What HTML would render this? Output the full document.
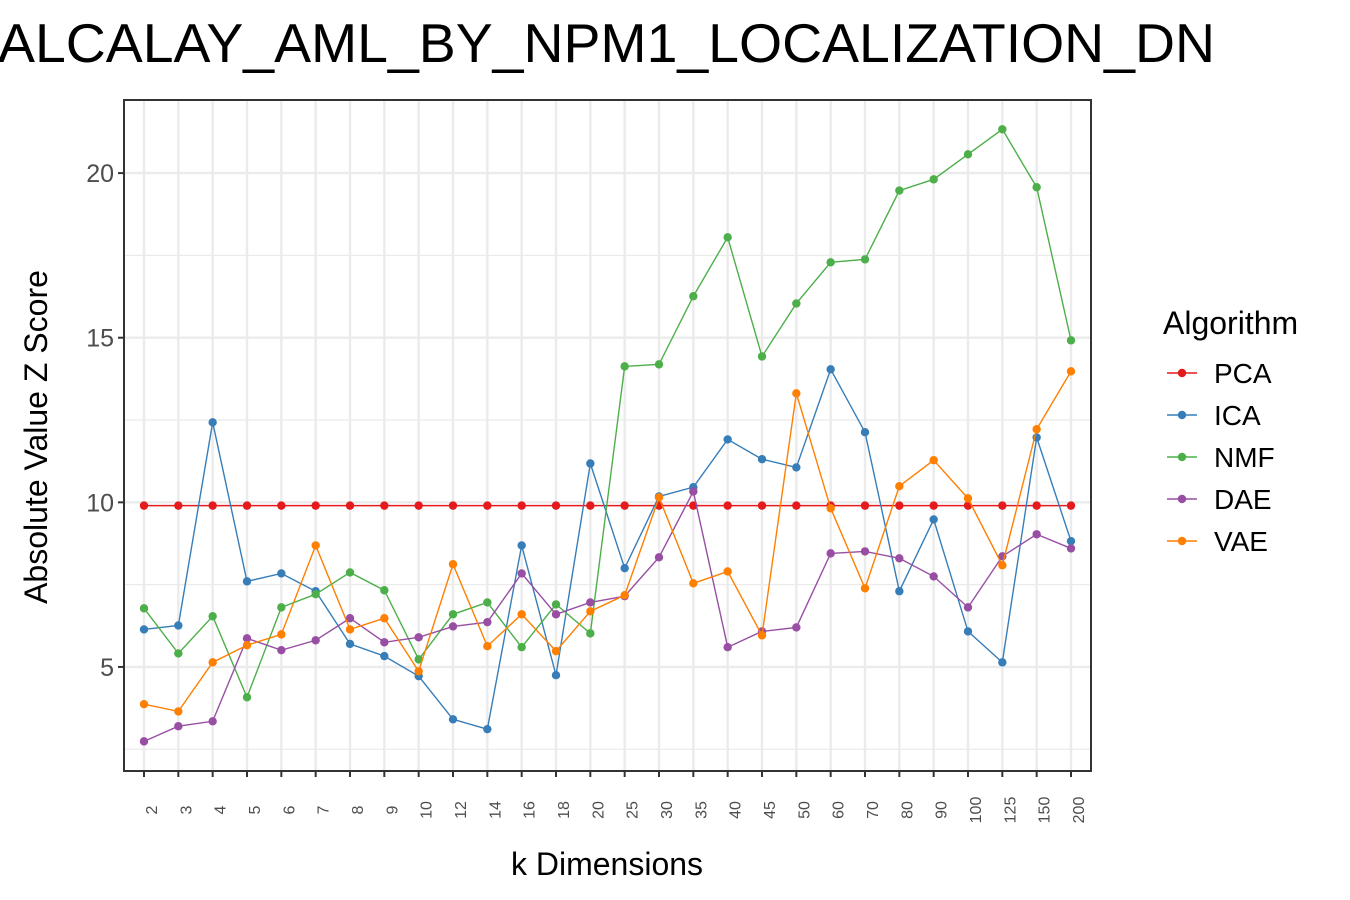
<!DOCTYPE html>
<html><head><meta charset="utf-8"><style>
body{margin:0;background:#fff;}
svg{display:block;font-family:"Liberation Sans",Arial,sans-serif;}
</style></head><body>
<svg id="chart" width="1350" height="900">
<text x="-2" y="62" font-size="55" textLength="1217" lengthAdjust="spacingAndGlyphs" fill="#000">ALCALAY_AML_BY_NPM1_LOCALIZATION_DN</text>
<text x="607" y="875" font-size="32" text-anchor="middle">k Dimensions</text>
<text transform="translate(47,437) rotate(-90)" font-size="32" text-anchor="middle">Absolute Value Z Score</text>
<g id="grid"></g><g id="series"></g><g id="axes"></g><g id="legend"></g>
</svg>
<script>
const categories=["2","3","4","5","6","7","8","9","10","12","14","16","18","20","25","30","35","40","45","50","60","70","80","90","100","125","150","200"];
const pca=[9.9,9.9,9.9,9.9,9.9,9.9,9.9,9.9,9.9,9.9,9.9,9.9,9.9,9.9,9.9,9.9,9.9,9.9,9.9,9.9,9.9,9.9,9.9,9.9,9.9,9.9,9.9,9.9];
const ica=[6.14,6.26,12.43,7.60,7.84,7.30,5.70,5.33,4.72,3.41,3.11,8.69,4.75,11.18,8.00,10.18,10.46,11.91,11.31,11.06,14.04,12.13,7.30,9.48,6.08,5.14,11.97,8.82];
const nmf=[6.78,5.41,6.54,4.08,6.81,7.21,7.87,7.33,5.23,6.60,6.96,5.60,6.90,6.02,14.13,14.19,16.26,18.05,14.43,16.04,17.29,17.38,19.47,19.81,20.57,21.33,19.57,14.92];
const dae=[2.74,3.20,3.35,5.87,5.51,5.81,6.48,5.75,5.90,6.23,6.36,7.84,6.60,6.96,7.15,8.33,10.33,5.60,6.08,6.20,8.45,8.51,8.30,7.75,6.81,8.36,9.03,8.60];
const vae=[3.87,3.65,5.14,5.66,5.99,8.69,6.14,6.48,4.87,8.12,5.63,6.60,5.48,6.69,7.18,10.15,7.54,7.90,5.96,13.31,9.82,7.39,10.49,11.28,10.12,8.09,12.22,13.98];
const seriesNames=["PCA","ICA","NMF","DAE","VAE"];
const seriesColors=["#e41a1c","#377eb8","#4daf4a","#984ea3","#ff7f00"];
const yTicks=[5,10,15,20];
const yMinor=[2.5,7.5,12.5,17.5];
const allSeries=[pca,ica,nmf,dae,vae];
const L=124,R=1091,T=100,B=771;
const yMin=1.84,yMax=22.22;
const NS="http://www.w3.org/2000/svg";
function xs(i){return 144+i*(1071-144)/(categories.length-1);}
function ys(v){return B-(v-yMin)/(yMax-yMin)*(B-T);}
function mk(tag,attrs,parent){const e=document.createElementNS(NS,tag);for(const k in attrs)e.setAttribute(k,attrs[k]);parent.appendChild(e);return e;}
const grid=document.getElementById('grid'),ser=document.getElementById('series'),ax=document.getElementById('axes'),lg=document.getElementById('legend');
yMinor.forEach(v=>{const l=mk('line',{x1:L,x2:R,y1:ys(v),y2:ys(v),stroke:'#ebebeb','stroke-width':1.2},grid);

});
yTicks.forEach(v=>{const l=mk('line',{x1:L,x2:R,y1:ys(v),y2:ys(v),stroke:'#ebebeb','stroke-width':2.4},grid);


const t=mk('line',{x1:L-6,x2:L,y1:ys(v),y2:ys(v),stroke:'#333','stroke-width':2},ax);


const tx=mk('text',{x:L-10,y:ys(v)+9,'font-size':25,fill:'#4d4d4d','text-anchor':'end'},ax);tx.textContent=v;

});
categories.forEach((c,i)=>{const l=mk('line',{x1:xs(i),x2:xs(i),y1:T,y2:B,stroke:'#ebebeb','stroke-width':2.4},grid);


const t=mk('line',{x1:xs(i),x2:xs(i),y1:B,y2:B+6,stroke:'#333','stroke-width':2},ax);


const tx=mk('text',{transform:`translate(${xs(i)+13},${810}) rotate(-90)`,'font-size':16,fill:'#4d4d4d','text-anchor':'middle'},ax);tx.textContent=c;

});
const frame=mk('rect',{x:L,y:T,width:R-L,height:B-T,fill:'none',stroke:'#333','stroke-width':2},ax);


allSeries.forEach((s,k)=>{const g=mk('g',{},ser);


const pl=mk('polyline',{points:s.map((v,i)=>xs(i)+','+ys(v)).join(' '),fill:'none',stroke:seriesColors[k],'stroke-width':1.4},g);


s.forEach((v,i)=>{const p=mk('circle',{cx:xs(i),cy:ys(v),r:4.2,fill:seriesColors[k]},g);

});});
const lt=mk('text',{x:1163,y:334,'font-size':32},lg);lt.textContent='Algorithm';


seriesNames.forEach((n,k)=>{const y=373+k*42;const g=mk('g',{},lg);


mk('line',{x1:1167,x2:1197,y1:y,y2:y,stroke:seriesColors[k],'stroke-width':1.4},g);
mk('circle',{cx:1182,cy:y,r:4.2,fill:seriesColors[k]},g);
const t=mk('text',{x:1214,y:y+10,'font-size':28},g);t.textContent=n;});
</script>
</body></html>
